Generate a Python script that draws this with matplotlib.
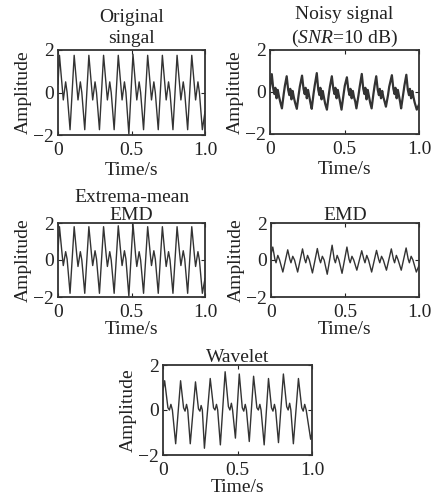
import matplotlib
matplotlib.use("Agg")
import matplotlib.pyplot as plt

plt.rcParams['font.family'] = ['Liberation Serif', 'DejaVu Serif']
plt.rcParams['mathtext.fontset'] = 'custom'
plt.rcParams['mathtext.rm'] = 'Liberation Serif'
plt.rcParams['mathtext.it'] = 'Liberation Serif:italic'

# ---------------- data ----------------
orig_t = [0.000, 0.010, 0.028, 0.036, 0.052, 0.062, 0.082,
          0.110, 0.128, 0.136, 0.152, 0.162, 0.182,
          0.210, 0.228, 0.236, 0.252, 0.262, 0.282,
          0.310, 0.328, 0.336, 0.352, 0.362, 0.382,
          0.410, 0.428, 0.436, 0.452, 0.462, 0.482,
          0.510, 0.528, 0.536, 0.552, 0.562, 0.582,
          0.610, 0.628, 0.636, 0.652, 0.662, 0.682,
          0.710, 0.728, 0.736, 0.752, 0.762, 0.782,
          0.810, 0.828, 0.836, 0.852, 0.862, 0.882,
          0.910, 0.928, 0.936, 0.952, 0.962, 0.982, 1.000]
orig_y = [0.40, 1.75, 0.30, -0.35, 0.50, 0.00, -1.75,
          1.75, 0.30, -0.35, 0.50, 0.00, -1.75,
          1.75, 0.30, -0.35, 0.50, 0.00, -1.75,
          1.75, 0.30, -0.35, 0.50, 0.00, -1.75,
          1.75, 0.30, -0.35, 0.50, 0.00, -1.95,
          1.80, 0.30, -0.35, 0.50, 0.00, -1.75,
          1.75, 0.30, -0.35, 0.50, 0.00, -1.75,
          1.75, 0.30, -0.35, 0.50, 0.00, -1.75,
          1.75, 0.30, -0.35, 0.50, 0.00, -1.75,
          1.75, 0.30, -0.35, 0.50, 0.00, -1.75, -0.90]

noisy_t = [0.000, 0.012, 0.022, 0.030, 0.036, 0.044, 0.052, 0.060, 0.068, 0.080, 0.092, 0.100,
           0.112, 0.122, 0.130, 0.136, 0.144, 0.152, 0.160, 0.168, 0.180, 0.192, 0.200,
           0.215, 0.225, 0.233, 0.239, 0.247, 0.255, 0.263, 0.271, 0.280, 0.292, 0.300,
           0.314, 0.324, 0.332, 0.338, 0.346, 0.354, 0.362, 0.370, 0.382, 0.394, 0.402,
           0.415, 0.425, 0.433, 0.439, 0.447, 0.455, 0.463, 0.471, 0.480, 0.494, 0.502,
           0.516, 0.526, 0.534, 0.540, 0.548, 0.556, 0.564, 0.572, 0.580, 0.594, 0.602,
           0.616, 0.626, 0.634, 0.640, 0.648, 0.656, 0.664, 0.672, 0.682, 0.694, 0.702,
           0.713, 0.723, 0.731, 0.737, 0.745, 0.753, 0.761, 0.769, 0.778, 0.792, 0.800,
           0.818, 0.828, 0.836, 0.842, 0.850, 0.858, 0.866, 0.874, 0.880, 0.894, 0.902,
           0.915, 0.925, 0.933, 0.939, 0.947, 0.955, 0.963, 0.971, 0.985, 1.000]
noisy_y = [0.20, 0.85, 0.15, -0.10, 0.20, -0.30, 0.10, -0.20, -0.45, -0.78, -0.10, 0.30,
           0.75, 0.10, -0.15, 0.15, -0.35, 0.05, -0.25, -0.50, -0.80, -0.15, 0.25,
           0.78, 0.15, -0.10, 0.20, -0.30, 0.10, -0.20, -0.50, -0.80, -0.10, 0.30,
           0.90, 0.10, -0.15, 0.20, -0.35, 0.05, -0.25, -0.55, -0.84, -0.15, 0.25,
           0.75, 0.15, -0.10, 0.20, -0.30, 0.10, -0.20, -0.50, -0.84, -0.10, 0.30,
           0.70, 0.10, -0.15, 0.15, -0.30, 0.05, -0.25, -0.45, -0.78, -0.15, 0.25,
           0.86, 0.15, -0.10, 0.20, -0.35, 0.10, -0.20, -0.50, -0.78, -0.10, 0.30,
           0.75, 0.10, -0.15, 0.15, -0.30, 0.05, -0.25, -0.45, -0.70, -0.15, 0.25,
           0.80, 0.15, -0.10, 0.20, -0.30, 0.10, -0.20, -0.50, -0.78, -0.10, 0.30,
           0.82, 0.10, -0.15, 0.15, -0.30, 0.05, -0.25, -0.50, -0.84, -0.60]

emdm_t = orig_t
emdm_y = [0.50, 1.80, 0.30, -0.30, 0.45, 0.05, -1.80,
          1.80, 0.25, -0.35, 0.45, 0.00, -1.80,
          1.80, 0.30, -0.30, 0.50, 0.05, -1.80,
          1.80, 0.25, -0.35, 0.45, 0.00, -1.80,
          1.85, 0.30, -0.30, 0.50, 0.05, -1.95,
          1.95, 0.25, -0.35, 0.45, 0.00, -1.80,
          1.80, 0.30, -0.30, 0.50, 0.05, -1.80,
          1.80, 0.25, -0.35, 0.45, 0.00, -1.80,
          1.80, 0.30, -0.30, 0.50, 0.05, -1.80,
          1.80, 0.25, -0.35, 0.45, 0.00, -1.80, -1.00]

emd_t = [0.000, 0.012, 0.026, 0.034, 0.046, 0.058, 0.080,
         0.113, 0.127, 0.135, 0.147, 0.159, 0.180,
         0.213, 0.227, 0.235, 0.247, 0.259, 0.280,
         0.313, 0.327, 0.335, 0.347, 0.359, 0.380,
         0.413, 0.427, 0.435, 0.447, 0.459, 0.480,
         0.513, 0.527, 0.535, 0.547, 0.559, 0.580,
         0.613, 0.627, 0.635, 0.647, 0.659, 0.680,
         0.713, 0.727, 0.735, 0.747, 0.759, 0.780,
         0.813, 0.827, 0.835, 0.847, 0.859, 0.880,
         0.913, 0.927, 0.935, 0.947, 0.959, 0.982, 1.000]
emd_y = [0.30, 0.70, 0.05, -0.15, 0.25, 0.00, -0.65,
         0.55, 0.05, -0.15, 0.20, 0.00, -0.65,
         0.60, 0.05, -0.15, 0.25, 0.00, -0.70,
         0.62, 0.05, -0.15, 0.20, 0.00, -0.77,
         0.80, 0.05, -0.15, 0.25, 0.00, -0.72,
         0.70, 0.05, -0.15, 0.20, 0.00, -0.55,
         0.50, 0.05, -0.15, 0.25, 0.00, -0.65,
         0.52, 0.05, -0.15, 0.20, 0.00, -0.55,
         0.60, 0.05, -0.15, 0.25, 0.00, -0.55,
         0.65, 0.05, -0.15, 0.20, 0.00, -0.65, -0.30]

wave_t = [0.000, 0.011, 0.033, 0.043, 0.053, 0.063, 0.085,
          0.118, 0.138, 0.148, 0.158, 0.166, 0.183,
          0.218, 0.238, 0.248, 0.256, 0.264, 0.278,
          0.317, 0.339, 0.349, 0.359, 0.367, 0.385,
          0.417, 0.439, 0.449, 0.459, 0.467, 0.486,
          0.512, 0.532, 0.542, 0.552, 0.560, 0.579,
          0.608, 0.630, 0.640, 0.650, 0.658, 0.679,
          0.708, 0.728, 0.738, 0.748, 0.756, 0.775,
          0.808, 0.830, 0.840, 0.850, 0.858, 0.875,
          0.909, 0.931, 0.941, 0.951, 0.961, 0.991, 1.000]
wave_y = [0.90, 1.30, 0.10, 0.00, 0.25, 0.00, -1.50,
          1.30, 0.10, -0.05, 0.25, 0.00, -1.50,
          1.25, 0.05, -0.05, 0.20, 0.00, -1.70,
          1.40, 0.10, 0.00, 0.25, 0.00, -1.55,
          1.70, 0.15, 0.00, 0.30, 0.00, -1.25,
          1.60, 0.10, -0.05, 0.25, 0.00, -1.40,
          1.50, 0.10, 0.00, 0.25, 0.00, -1.55,
          1.40, 0.10, -0.05, 0.25, 0.00, -1.45,
          1.60, 0.15, 0.00, 0.30, 0.00, -1.50,
          1.40, 0.10, -0.05, 0.25, 0.00, -1.30, -1.00]

titles = ["Original\nsingal", "Noisy signal\n($\\mathit{SNR}$=10 dB)",
          "Extrema-mean\nEMD", "EMD", "Wavelet"]
xticks = [0, 0.5, 1.0]
xticklabels = ["0", "0.5", "1.0"]
yticks = [-2, 0, 2]
yticklabels = ["\u22122", "0", "2"]

# ---------------- layout ----------------
W, H = 433, 497
fig = plt.figure(figsize=(W / 100, H / 100), dpi=100)

def box(x0, y0, x1, y1):
    return [x0 / W, 1 - y1 / H, (x1 - x0) / W, (y1 - y0) / H]

# rect, t, y, title pad, line width, title linespacing, xlabel pad
panels = [
    (box(58, 50, 205, 135), orig_t, orig_y, 5, 1.0, 1.3, 2),
    (box(270, 50, 419, 134), noisy_t, noisy_y, 5, 1.6, 1.3, 2),
    (box(58, 223, 205, 297), emdm_t, emdm_y, 2, 1.0, 1.1, 0),
    (box(271, 223, 419, 297), emd_t, emd_y, 2, 1.0, 1.1, 0),
    (box(163, 365, 312, 455), wave_t, wave_y, 2, 1.0, 1.1, 0),
]

for (rect, t, y, tpad, lw, ls, xpad), title in zip(panels, titles):
    ax = fig.add_axes(rect)
    ax.plot(t, y, color='#333333', lw=lw)
    ax.set_xlim(0, 1.0)
    ax.set_ylim(-2, 2)
    ax.set_xticks(xticks)
    ax.set_xticklabels(xticklabels)
    ax.set_yticks(yticks)
    ax.set_yticklabels(yticklabels)
    ax.tick_params(direction='in', length=3, width=0.8, labelsize=14,
                   top=True, right=True, colors='#222222', pad=3)
    ax.tick_params(axis='x', pad=5)
    for s in ax.spines.values():
        s.set_linewidth(1.3)
        s.set_color('#333333')
    ax.set_title(title, fontsize=14, pad=tpad, linespacing=ls, color='#222222')
    ax.set_ylabel("Amplitude", fontsize=14, labelpad=1, color='#222222')
    ax.set_xlabel("Time/s", fontsize=14, labelpad=xpad, color='#222222')

fig.savefig("out.png", dpi=100)
